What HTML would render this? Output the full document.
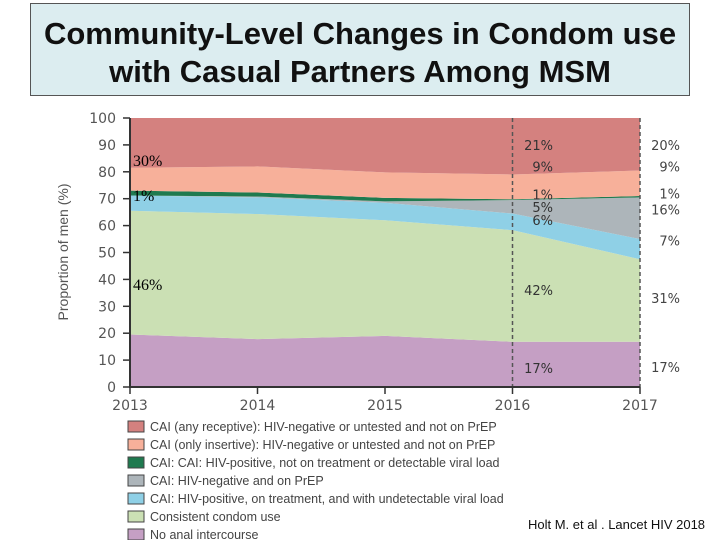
<!DOCTYPE html>
<html><head><meta charset="utf-8"><style>
body{margin:0;width:720px;height:540px;background:#fff;overflow:hidden;position:relative;font-family:"Liberation Sans",sans-serif}
#title{position:absolute;left:30px;top:3px;width:660px;height:93px;background:#dcedf0;border:1px solid #555;text-align:center;font-weight:bold;font-size:31px;line-height:38px;padding-top:11px;box-sizing:border-box;color:#111;white-space:nowrap}
</style></head><body>
<div id="title">Community-Level Changes in Condom use<br>with Casual Partners Among MSM</div>
<svg id="chart" width="720" height="540" style="position:absolute;left:0;top:0"></svg>
<div style="position:absolute;left:528px;top:517px;font-size:13px;color:#111">Holt M. et al . Lancet HIV 2018</div>
<script>
const years=[2013,2014,2015,2016,2017];
const noAnal=[19.5,17.8,19,16.8,16.8];
const condom=[46,46.5,43,41.5,30.7];
const undetectable=[5.7,6.2,6.5,6.2,7.5];
const prep=[0,0.3,0.5,5,15.5];
const detectable=[1.8,1.5,1.3,0.3,0.5];
const insertive=[8.5,9.7,9.5,9.2,9.5];
const yTicks=[0,10,20,30,40,50,60,70,80,90,100];
const seriesNames=["no-anal-intercourse","consistent-condom-use","undetectable-viral-load","on-prep","detectable-viral-load","only-insertive","any-receptive"];
const colors=["#c59fc4","#cbe0b4","#8fd0e6","#adb5ba","#1f7a4f","#f7b09a","#d4817f"];
const legendLabels=["CAI (any receptive): HIV-negative or untested and not on PrEP","CAI (only insertive): HIV-negative or untested and not on PrEP","CAI: CAI: HIV-positive, not on treatment or detectable viral load","CAI: HIV-negative and on PrEP","CAI: HIV-positive, on treatment, and with undetectable viral load","Consistent condom use","No anal intercourse"];
const legendColors=["#d4817f","#f7b09a","#1f7a4f","#adb5ba","#8fd0e6","#cbe0b4","#c59fc4"];
const labels2016=[["21%",90],["9%",82],["1%",71.5],["5%",67],["6%",62],["42%",36],["17%",7]];
const labels2017=[["20%",90],["9%",82],["1%",72],["16%",66],["7%",54.5],["31%",33],["17%",7.5]];
const labelsLeft=[["30%",84],["1%",71],["46%",38]];
const NS="http://www.w3.org/2000/svg";
const svg=document.getElementById('chart');
const x=v=>130+(v-2013)*127.5;
const y=v=>387-v*2.69;
function mk(t,a){const e=document.createElementNS(NS,t);for(const k in a)e.setAttribute(k,a[k]);svg.appendChild(e);return e;}
const layers=[noAnal,condom,undetectable,prep,detectable,insertive];
let base=years.map(()=>0);
for(let i=0;i<7;i++){
  const top=i<6?base.map((b,j)=>b+layers[i][j]):years.map(()=>100);
  let d="M"+years.map((yr,j)=>x(yr)+","+y(top[j])).join("L");
  for(let j=years.length-1;j>=0;j--)d+="L"+x(years[j])+","+y(base[j]);
  const p=mk('path',{d:d+"Z",fill:colors[i]});
  
  
  base=top;
}
[2016,2017].forEach(yr=>{const l=mk('line',{x1:x(yr),x2:x(yr),y1:y(100),y2:y(0),stroke:'#555','stroke-width':1.5,'stroke-dasharray':'4,3'});

});
const ax=mk('path',{d:`M130,${y(100)}V387H640`,stroke:'#333','stroke-width':2,fill:'none'});


yTicks.forEach(t=>{mk('line',{x1:123,x2:130,y1:y(t),y2:y(t),stroke:'#333','stroke-width':1.5});
const tx=mk('text',{x:116,y:y(t)+5,'text-anchor':'end','font-size':14,fill:'#555','font-family':'DejaVu Sans, sans-serif'});tx.textContent=t;

});
years.forEach(yr=>{mk('line',{x1:x(yr),x2:x(yr),y1:387,y2:394,stroke:'#333','stroke-width':1.5});
const tx=mk('text',{x:x(yr),y:410,'text-anchor':'middle','font-size':14,fill:'#555','font-family':'DejaVu Sans, sans-serif'});tx.textContent=yr;

});
const yt=mk('text',{x:0,y:0,transform:'translate(68,252) rotate(-90)','text-anchor':'middle','font-size':14,fill:'#555','font-family':'Liberation Sans, sans-serif'});yt.textContent='Proportion of men (%)';


function lbl(arr,xx,anchor,font,size,fill,nm){arr.forEach(a=>{const t=mk('text',{x:xx,y:y(a[1])+5,'text-anchor':anchor,'font-size':size,fill:fill,'font-family':font});t.textContent=a[0];

});}
lbl(labels2016,553,'end','DejaVu Sans, sans-serif',13,'#333','value-label-2016');
lbl(labels2017,680,'end','DejaVu Sans, sans-serif',13,'#444','value-label-2017');
lbl(labelsLeft,133,'start','Liberation Serif, serif',16,'#000','value-label-2013');
legendLabels.forEach((s,i)=>{const yy=421+i*18;
const r=mk('rect',{x:128,y:yy,width:16,height:11,fill:legendColors[i],stroke:'#444','stroke-width':1});


const t=mk('text',{x:150,y:yy+10,'font-size':12.5,fill:'#444','font-family':'Liberation Sans, sans-serif'});t.textContent=s;

});
</script>
</body></html>
